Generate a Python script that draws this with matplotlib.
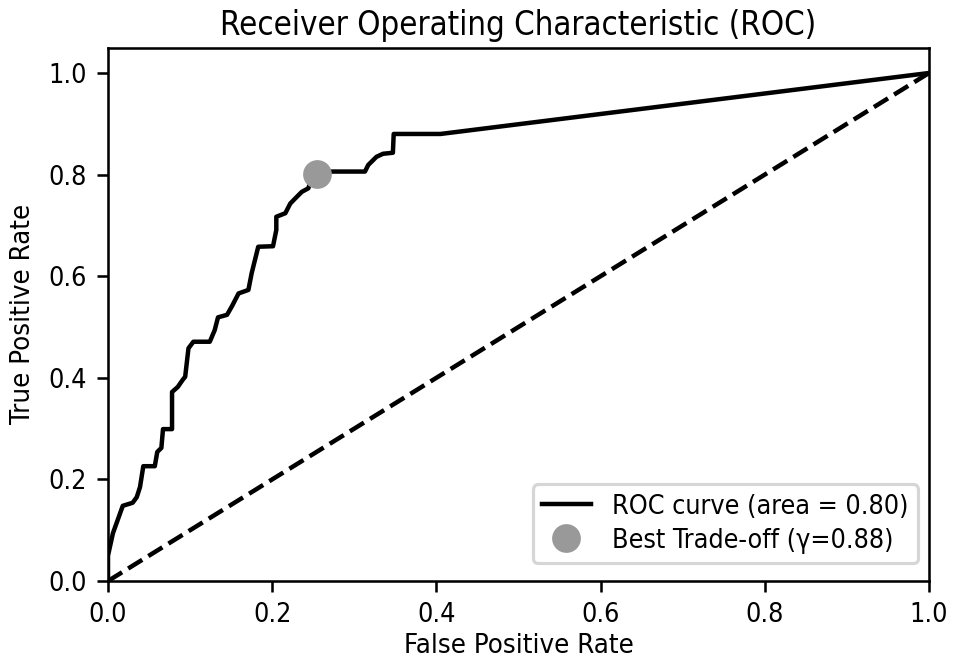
import matplotlib
matplotlib.use("Agg")
import matplotlib.pyplot as plt
from matplotlib import font_manager

fpr = [0.0, 0.0, 0.006, 0.018, 0.030, 0.035, 0.039, 0.043, 0.057, 0.060, 0.065, 0.067,
       0.078, 0.078, 0.085, 0.091, 0.094, 0.098, 0.104, 0.124, 0.130, 0.134, 0.145,
       0.151, 0.159, 0.171, 0.175, 0.183, 0.201, 0.205, 0.205, 0.216, 0.222, 0.228,
       0.236, 0.244, 0.248, 0.252, 0.270, 0.313, 0.317, 0.327, 0.335, 0.347, 0.348,
       0.405, 1.0]
tpr = [0.0, 0.05, 0.094, 0.148, 0.154, 0.165, 0.185, 0.226, 0.226, 0.254, 0.262, 0.299,
       0.299, 0.372, 0.382, 0.396, 0.402, 0.458, 0.471, 0.471, 0.494, 0.519, 0.524,
       0.541, 0.566, 0.573, 0.606, 0.658, 0.659, 0.691, 0.717, 0.724, 0.743, 0.753,
       0.766, 0.773, 0.793, 0.799, 0.806, 0.806, 0.819, 0.835, 0.841, 0.843, 0.880,
       0.880, 1.0]
roc_auc = 0.80
best_fpr = 0.255
best_tpr = 0.802
best_gamma = 0.88

names = {f.name for f in font_manager.fontManager.ttflist}
if "DejaVu Sans Condensed" in names:
    fam = ["DejaVu Sans Condensed", "DejaVu Sans"]
else:
    fam = ["DejaVu Sans"]
plt.rcParams["font.family"] = fam
plt.rcParams["font.stretch"] = "condensed"

fig = plt.figure(figsize=(957 / 230, 657 / 230), dpi=230)
ax = fig.add_axes([108 / 957, 1 - 581 / 657, (929 - 108) / 957, (581 - 47.6) / 657])

ax.plot(fpr, tpr, color="black", lw=1.4, label=f"ROC curve (area = {roc_auc:.2f})")
ax.plot([0, 1], [0, 1], color="black", lw=1.4, linestyle="--")
ax.plot([best_fpr], [best_tpr], "o", color="#999999", markersize=8,
        label=f"Best Trade-off (\u03b3={best_gamma:.2f})")

ax.set_xlim(0.0, 1.0)
ax.set_ylim(0.0, 1.05)
ax.tick_params(labelsize=8.4, length=3.5, pad=3)
ax.set_xlabel("False Positive Rate", fontsize=8.6, labelpad=1.5)
ax.set_ylabel("True Positive Rate", fontsize=8.6, labelpad=4)
ax.set_title("Receiver Operating Characteristic (ROC)", fontsize=10.3, pad=4)
ax.legend(loc="lower right", fontsize=8.4, labelspacing=0.3, borderpad=0.35,
          handlelength=1.8, handletextpad=0.8, borderaxespad=0,
          bbox_to_anchor=(1 - 11 / 821, 18 / 533.4))

fig.savefig("out.png", dpi=230)
